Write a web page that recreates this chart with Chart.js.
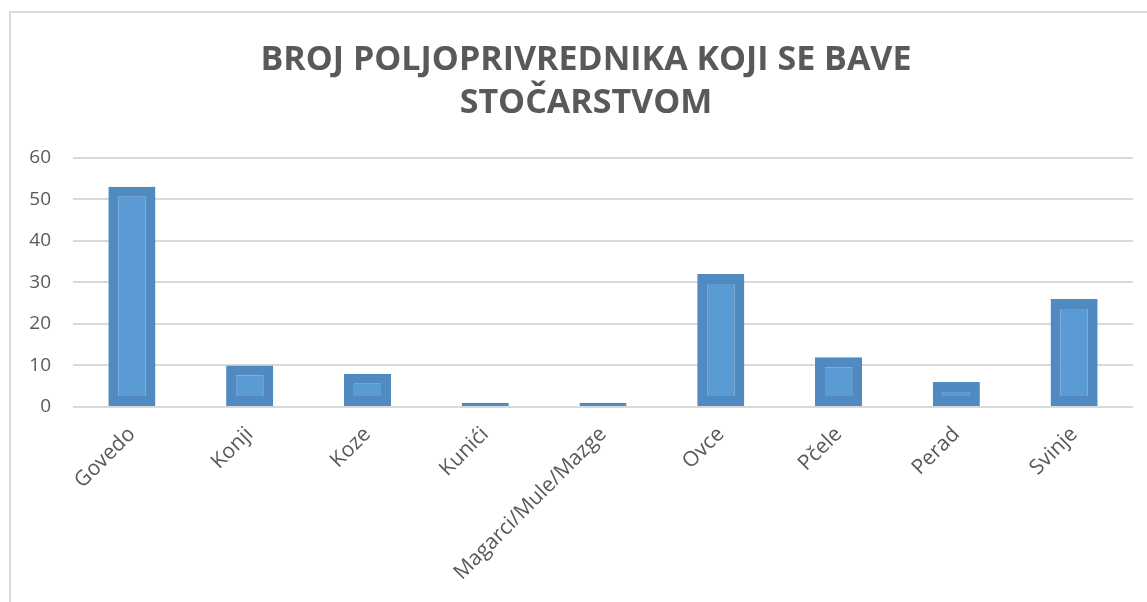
<!DOCTYPE html>
<html>
<head>
<meta charset="utf-8">
<script src="https://cdn.jsdelivr.net/npm/chart.js@4.4.0/dist/chart.umd.min.js"></script>
<style>
  body { margin: 0; background: #fff; overflow: hidden; }
  #okvir { position: absolute; left: 9px; top: 11px; width: 1300px; height: 800px; border: 2px solid #d9d9d9; }
  #wrap { position: absolute; left: 0; top: 0; width: 1147px; height: 602px; }
</style>
</head>
<body>
<div id="okvir"></div>
<div id="wrap"><canvas id="myChart" width="1147" height="602"></canvas></div>
<script>
// kategorije i vrijednosti
const kategorije = ["Govedo", "Konji", "Koze", "Kunići", "Magarci/Mule/Mazge", "Ovce", "Pčele", "Perad", "Svinje"];
const vrijednosti = [53, 10, 8, 1, 1, 32, 12, 6, 26];
const naslov = ["BROJ POLJOPRIVREDNIKA KOJI SE BAVE", "STOČARSTVOM"];

const data = {
  labels: kategorije,
  datasets: [
    {
      label: "Broj",
      data: vrijednosti,
      backgroundColor: "#5b9bd5",
      borderColor: "#508ac0",
      borderWidth: 10,
      borderSkipped: false,
      barPercentage: 0.4,
      categoryPercentage: 1,
    },
  ],
};

// naslov je u originalu malo desno od sredine platna
const pomakNaslova = {
  id: "pomakNaslova",
  afterLayout(chart) {
    if (chart.titleBlock) chart.titleBlock.left += 39;
  },
};

const config = {
  type: "bar",
  data: data,
  plugins: [pomakNaslova],
  options: {
    responsive: false,
    animation: false,
    layout: {
      padding: { left: 0, right: 14, top: 26, bottom: 0 },
    },
    plugins: {
      legend: { display: false },
      tooltip: { enabled: false },
      title: {
        display: true,
        text: naslov,
        color: "#595959",
        font: { family: "Open Sans", size: 34, weight: "bold", lineHeight: 1.29 },
        padding: { top: 12, bottom: 32 },
      },
    },
    scales: {
      x: {
        grid: { display: false, drawTicks: false },
        border: { display: false },
        ticks: {
          color: "#595959",
          font: { family: "Open Sans", size: 21 },
          minRotation: 45,
          maxRotation: 45,
          padding: 15,
        },
        afterFit: function (scale) { scale.height = 195; },
      },
      y: {
        min: 0,
        max: 60,
        grid: { color: "#d9d9d9", lineWidth: 2, drawTicks: false },
        border: { display: false },
        ticks: {
          stepSize: 10,
          color: "#595959",
          font: { family: "Open Sans", size: 19 },
          padding: 22,
        },
        afterFit: function (scale) { scale.width = 73; },
      },
    },
  },
};

context = document.getElementById("myChart").getContext("2d");
chart = new Chart(context, config);
</script>
</body>
</html>
